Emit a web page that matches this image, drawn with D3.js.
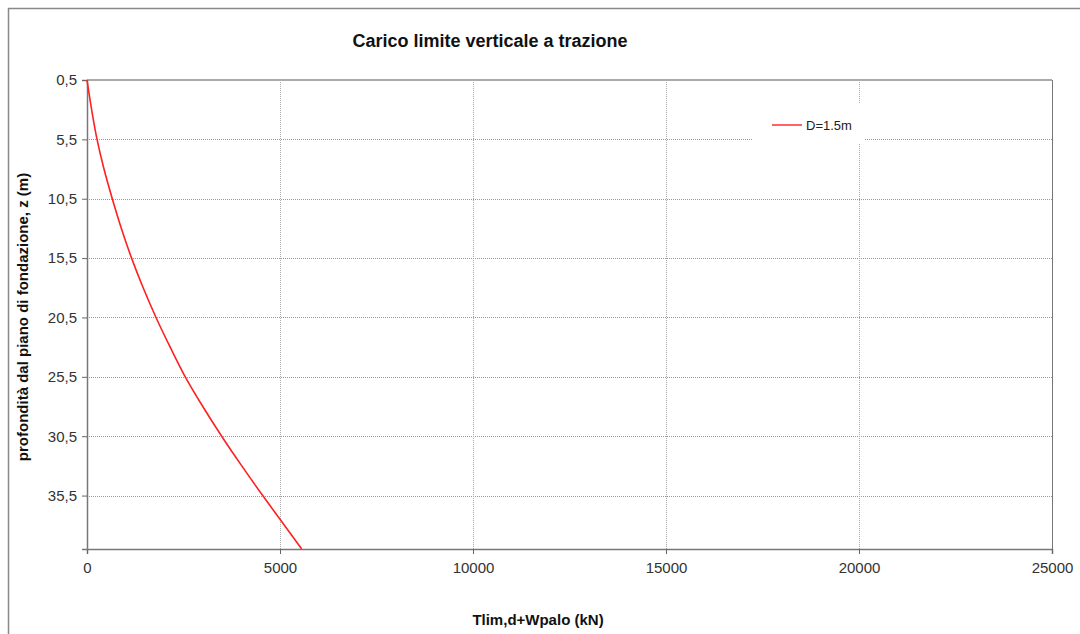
<!DOCTYPE html>
<html>
<head>
<meta charset="utf-8">
<script src="https://cdn.jsdelivr.net/npm/d3@7"></script>
<style>
body { margin: 0; background: #fff; }
svg { font-family: "Liberation Sans", Arial, sans-serif; }
</style>
</head>
<body>
<div id="chart"></div>
<script>
// depth values (m) and pull-out load (kN)
var depth = [0.5, 3, 5.5, 8, 10.5, 13, 15.5, 18, 20.5, 23, 25.5, 28, 30.5, 33, 35.5, 37.5, 40];
var load = [0, 120, 260, 440, 655, 890, 1155, 1455, 1788, 2155, 2545, 3000, 3489, 4010, 4552, 5000, 5562];
var yTicks = [0.5, 5.5, 10.5, 15.5, 20.5, 25.5, 30.5, 35.5];
var xTicks = [0, 5000, 10000, 15000, 20000, 25000];
var seriesName = "D=1.5m";

var W = 1080, H = 634;
//plot area edges (top is reserved by window, so pTop etc.)
var pLeft = 87, pTop = 80, pRight = 1052, pBottom = 549;

var svg = d3.select("#chart").append("svg")
	.attr("width", W)
	.attr("height", H);

//outer frame of the chart
svg.append("path")
	.attr("d", "M8.5," + H + "V8.5H" + W)
	.attr("fill", "none")
	.attr("stroke", "#888")
	.attr("stroke-width", 1.5);

var x = d3.scaleLinear().domain([0, 25000]).range([pLeft, pRight]);
var y = d3.scaleLinear().domain([0.5, 40]).range([pTop, pBottom]);

var it = d3.formatLocale({decimal: ",", thousands: "", grouping: [3], currency: ["", ""]});
var fy = it.format(".1f");

//gridlines
svg.append("g").selectAll("line").data(yTicks.slice(1))
	.join("line")
	.attr("x1", pLeft).attr("x2", pRight)
	.attr("y1", function(d){ return Math.round(y(d)) + 0.5; })
	.attr("y2", function(d){ return Math.round(y(d)) + 0.5; })
	.attr("stroke", "#999")
	.attr("stroke-dasharray", "1,1");
svg.append("g").selectAll("line").data(xTicks.slice(1, -1))
	.join("line")
	.attr("y1", pTop).attr("y2", pBottom)
	.attr("x1", function(d){ return Math.round(x(d)) + 0.5; })
	.attr("x2", function(d){ return Math.round(x(d)) + 0.5; })
	.attr("stroke", "#aaa")
	.attr("stroke-dasharray", "1,1");

//plot border top and right
svg.append("line")
	.attr("x1", pLeft).attr("x2", pRight).attr("y1", pTop).attr("y2", pTop)
	.attr("stroke", "#aaa").attr("stroke-width", 2);
svg.append("line")
	.attr("x1", pRight + 0.5).attr("x2", pRight + 0.5).attr("y1", pTop).attr("y2", pBottom)
	.attr("stroke", "#777");

//legend box, hides the gridlines behind it
var lg = svg.append("g");
lg.append("rect")
	.attr("x", 753).attr("y", 103).attr("width", 112).attr("height", 40)
	.attr("fill", "#fff");
lg.append("line")
	.attr("x1", 772).attr("x2", 802).attr("y1", 125).attr("y2", 125)
	.attr("stroke", "#ff3030").attr("stroke-width", 1.5);
lg.append("text")
	.attr("x", 806).attr("y", 129.5)
	.attr("font-size", 13)
	.attr("fill", "#222")
	.text(seriesName);

//axes
var xAxis = d3.axisBottom(x).tickValues(xTicks).tickSize(5).tickPadding(8).tickFormat(d3.format("d"));
var xMinor = d3.axisBottom(x).tickValues(d3.range(0, 25001, 1000)).tickSize(4).tickFormat("");
var yAxis = d3.axisLeft(y).tickValues(yTicks).tickSize(5).tickPadding(5).tickFormat(fy);
var yMinor = d3.axisLeft(y).tickValues(d3.range(0.5, 40, 1)).tickSize(4).tickFormat("");

var gx = svg.append("g").attr("transform", "translate(0," + pBottom + ")");
gx.call(xMinor);
gx.call(xAxis);
var gy = svg.append("g").attr("transform", "translate(" + pLeft + ",0)");
gy.call(yMinor);
gy.call(yAxis);

svg.selectAll(".domain").attr("stroke", "#777").attr("stroke-width", 1.5);
svg.selectAll(".tick line").attr("stroke", "#666");
svg.selectAll(".tick text").attr("font-size", 15).attr("fill", "#333")
	.attr("font-family", "Liberation Sans, Arial, sans-serif");

//curve
var line = d3.line()
	.x(function(d, i){ return x(load[i]); })
	.y(function(d){ return y(d); })
	.curve(d3.curveMonotoneY);
svg.append("path")
	.attr("d", line(depth))
	.attr("fill", "none")
	.attr("stroke", "#ff2020")
	.attr("stroke-width", 1.6);

//titles
svg.append("text")
	.attr("x", 490).attr("y", 47)
	.attr("text-anchor", "middle")
	.attr("font-size", 18)
	.attr("font-weight", "bold")
	.attr("fill", "#111")
	.text("Carico limite verticale a trazione");
svg.append("text")
	.attr("x", 538).attr("y", 625)
	.attr("text-anchor", "middle")
	.attr("font-size", 15)
	.attr("font-weight", "bold")
	.attr("fill", "#111")
	.text("Tlim,d+Wpalo (kN)");
svg.append("text")
	.attr("transform", "translate(28,317) rotate(-90)")
	.attr("text-anchor", "middle")
	.attr("font-size", 15)
	.attr("font-weight", "bold")
	.attr("fill", "#111")
	.text("profondità dal piano di fondazione, z (m)");
</script>
</body>
</html>
